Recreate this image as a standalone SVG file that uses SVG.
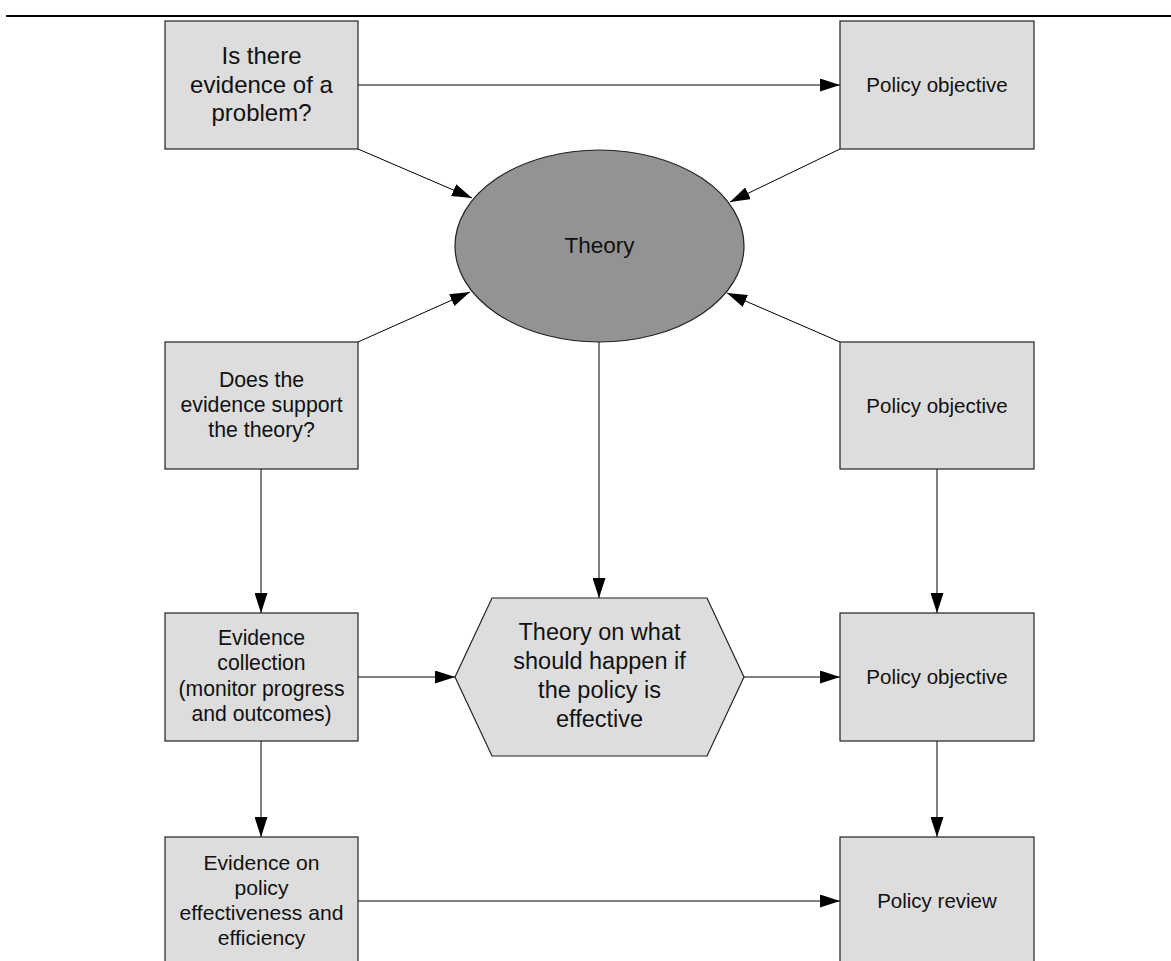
<svg xmlns="http://www.w3.org/2000/svg" width="1171" height="961" viewBox="0 0 1171 961">
<style>
.box{fill:#dddddd;stroke:#222;stroke-width:1.2}
.ell{fill:#939393;stroke:#222;stroke-width:1.2}
.t{font-family:"Liberation Sans",Arial,sans-serif;fill:#111;text-anchor:middle}
.c{stroke:#000;stroke-width:1;fill:none;marker-end:url(#ah)}
</style>
<defs>
<marker id="ah" markerUnits="userSpaceOnUse" markerWidth="20" markerHeight="13" refX="20" refY="6.5" orient="auto">
<path d="M0,0 L20,6.5 L0,13 z" fill="#000"/>
</marker>
</defs>
<rect width="1171" height="961" fill="#fff"/>
<line x1="6" y1="16" x2="1171" y2="16" stroke="#000" stroke-width="2.2"/>

<g id="connectors">
<line class="c" x1="358" y1="85" x2="840" y2="85"/>
<line class="c" x1="358" y1="149" x2="472" y2="198"/>
<line class="c" x1="840" y1="149" x2="730" y2="202"/>
<line class="c" x1="358" y1="342" x2="470" y2="292"/>
<line class="c" x1="840" y1="342" x2="727" y2="293"/>
<line class="c" x1="599" y1="342" x2="599" y2="598"/>
<line class="c" x1="261" y1="469" x2="261" y2="613"/>
<line class="c" x1="937" y1="469" x2="937" y2="613"/>
<line class="c" x1="358" y1="677" x2="455" y2="677"/>
<line class="c" x1="744" y1="677" x2="840" y2="677"/>
<line class="c" x1="261" y1="741" x2="261" y2="837"/>
<line class="c" x1="937" y1="741" x2="937" y2="837"/>
<line class="c" x1="358" y1="901" x2="840" y2="901"/>
</g>

<g id="n-problem">
<rect class="box" x="165" y="21" width="193" height="128"/>
<text class="t" font-size="24"><tspan x="261.5" y="64">Is there</tspan><tspan x="261.5" y="92.5">evidence of a</tspan><tspan x="261.5" y="121">problem?</tspan></text>
</g>
<g id="n-objective1">
<rect class="box" x="840" y="21" width="194" height="128"/>
<text class="t" font-size="20.5" x="937" y="92">Policy objective</text>
</g>
<g id="n-theory">
<ellipse class="ell" cx="599.5" cy="246" rx="144.5" ry="96"/>
<text class="t" font-size="22.5" x="599.5" y="253">Theory</text>
</g>
<g id="n-support">
<rect class="box" x="165" y="342" width="193" height="127"/>
<text class="t" font-size="21.3"><tspan x="261.5" y="387">Does the</tspan><tspan x="261.5" y="412">evidence support</tspan><tspan x="261.5" y="437">the theory?</tspan></text>
</g>
<g id="n-objective2">
<rect class="box" x="840" y="342" width="194" height="127"/>
<text class="t" font-size="20.5" x="937" y="413">Policy objective</text>
</g>
<g id="n-collection">
<rect class="box" x="165" y="613" width="193" height="128"/>
<text class="t" font-size="21.2"><tspan x="261.5" y="645">Evidence</tspan><tspan x="261.5" y="670">collection</tspan><tspan x="261.5" y="695.5">(monitor progress</tspan><tspan x="261.5" y="721">and outcomes)</tspan></text>
</g>
<g id="n-hexagon">
<polygon class="box" points="455,677 492,598 707,598 744,677 707,756 492,756"/>
<text class="t" font-size="23.5"><tspan x="599.5" y="640">Theory on what</tspan><tspan x="599.5" y="669">should happen if</tspan><tspan x="599.5" y="698">the policy is</tspan><tspan x="599.5" y="727">effective</tspan></text>
</g>
<g id="n-objective3">
<rect class="box" x="840" y="613" width="194" height="128"/>
<text class="t" font-size="20.5" x="937" y="684">Policy objective</text>
</g>
<g id="n-effectiveness">
<rect class="box" x="165" y="837" width="193" height="130"/>
<text class="t" font-size="21.1"><tspan x="261.5" y="870">Evidence on</tspan><tspan x="261.5" y="895">policy</tspan><tspan x="261.5" y="920">effectiveness and</tspan><tspan x="261.5" y="945">efficiency</tspan></text>
</g>
<g id="n-review">
<rect class="box" x="840" y="837" width="194" height="130"/>
<text class="t" font-size="20.5" x="937" y="908">Policy review</text>
</g>
</svg>
